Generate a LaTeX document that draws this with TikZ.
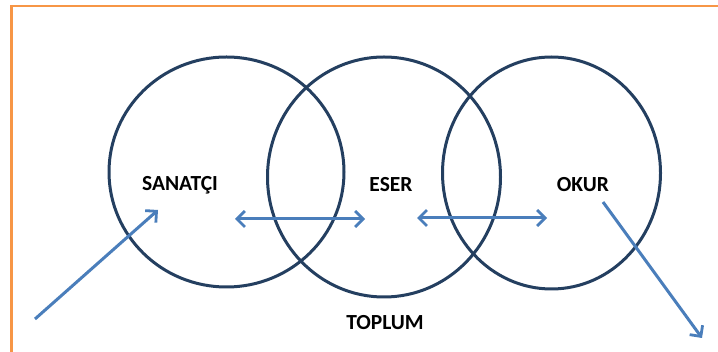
\documentclass[tikz,border=0pt]{standalone}
\usepackage{fontspec}
\setmainfont{Carlito}
\usetikzlibrary{arrows.meta}
\definecolor{frameorange}{HTML}{F79646}
\definecolor{ringblue}{HTML}{243F60}
\definecolor{arrowblue}{HTML}{4A7EBB}
\begin{document}
\begin{tikzpicture}[x=1pt,y=-1pt,
  ring/.style={draw=ringblue,line width=3pt},
  label/.style={font=\fontsize{21.5}{24}\selectfont\bfseries,text=black,inner sep=0pt},
  flow/.style={draw=arrowblue,line width=3pt},
  tip/.style={-{Straight Barb[length=8pt,width=16pt,line width=2.8pt]}},
  bothtips/.style={{Straight Barb[length=8pt,width=16pt,line width=2.8pt]}-{Straight Barb[length=8pt,width=16pt,line width=2.8pt]}}]
  \useasboundingbox (0,0) rectangle (718,352);
  % outer frame
  \draw[frameorange,line width=2.4pt] (11.5,6) rectangle (730,353);
  % the three rings
  \draw[ring] (226.5,172) ellipse [x radius=117.5,y radius=115];
  \draw[ring] (384,177) ellipse [x radius=116.5,y radius=120];
  \draw[ring] (551.5,173) ellipse [x radius=109,y radius=116];
  % labels
  \node[label] (sanatci) at (180,185) {SANATÇI};
  \node[label] (eser) at (391,185) {ESER};
  \node[label] (okur) at (583,185) {OKUR};
  \node[label] (toplum) at (385,323) {TOPLUM};
  % arrow end points
  \coordinate (inS) at (35,319);
  \coordinate (inE) at (158,210);
  \coordinate (aL) at (235,219);
  \coordinate (aR) at (365,219);
  \coordinate (bL) at (417,218);
  \coordinate (bR) at (547,218);
  \coordinate (outS) at (603,202);
  \coordinate (outE) at (702,338);
  \draw[flow,tip] (inS) -- (inE);
  \draw[flow,bothtips] (aL) -- (aR);
  \draw[flow,bothtips] (bL) -- (bR);
  \draw[flow,tip] (outS) -- (outE);
\end{tikzpicture}
\end{document}
